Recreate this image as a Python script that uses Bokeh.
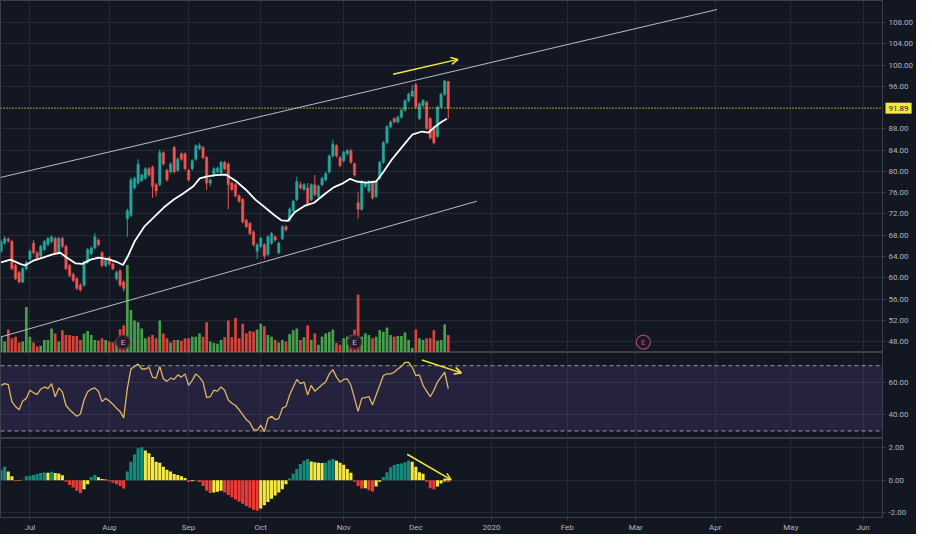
import numpy as np
from bokeh.plotting import figure
from bokeh.layouts import column
from bokeh.models import (Range1d, FixedTicker, PrintfTickFormatter, Span, BoxAnnotation,
                          Arrow, OpenHead, Grid)
from bokeh.embed import file_html
from bokeh.resources import INLINE
from bokeh.core.properties import value

# ---------------- data ----------------
opens = [65.0, 66.5, 67.3, 66.8, 62.3, 61.0, 59.2, 61.7, 63.5, 66.5,
         64.7, 64.1, 65.3, 66.2, 66.8, 67.4, 64.7, 67.4, 65.9, 62.3,
         60.6, 59.8, 58.6, 58.6, 62.9, 64.5, 65.6, 67.1, 64.7, 62.3,
         63.8, 62.6, 59.8, 61.3, 59.2, 71.1, 71.7, 76.9, 77.8, 78.3,
         78.7, 80.5, 80.8, 77.5, 77.5, 83.5, 80.2, 79.9, 84.5, 80.2,
         83.3, 83.3, 80.2, 80.5, 82.3, 84.3, 84.5, 82.6, 77.8, 79.3,
         79.9, 79.6, 81.7, 81.4, 77.8, 77.5, 75.4, 74.7, 70.8, 70.2,
         68.6, 65.0, 65.9, 66.2, 64.4, 66.5, 67.7, 64.7, 67.4, 69.6,
         70.8, 72.6, 74.7, 77.5, 76.6, 76.9, 74.7, 77.5, 75.3, 77.5,
         78.4, 79.9, 82.9, 84.8, 82.6, 82.0, 83.3, 83.9, 81.4, 74.1,
         72.9, 77.2, 76.3, 77.8, 75.3, 78.7, 81.7, 85.4, 88.4, 89.9,
         89.3, 90.2, 91.5, 93.3, 94.2, 96.3, 89.9, 92.4, 93.0, 89.9,
         88.1, 86.6, 92.1, 94.5, 96.9]
highs = [67.2, 67.8, 67.6, 67.1, 62.6, 61.3, 62.0, 63.2, 65.3, 67.1,
         65.0, 66.2, 67.1, 67.7, 68.0, 67.7, 67.7, 67.7, 66.2, 62.6,
         61.0, 60.1, 59.0, 63.2, 65.6, 65.9, 68.4, 67.4, 65.0, 63.8,
         64.1, 62.9, 61.3, 61.6, 59.5, 73.0, 78.9, 79.0, 82.3, 79.6,
         80.8, 80.8, 81.1, 77.8, 84.1, 83.8, 80.5, 81.7, 84.8, 82.6,
         83.6, 83.6, 80.5, 82.3, 85.1, 85.3, 84.8, 82.9, 78.7, 80.8,
         80.9, 82.0, 82.0, 81.7, 78.1, 77.8, 75.7, 75.0, 71.1, 70.5,
         68.9, 66.5, 67.7, 66.5, 68.0, 68.6, 68.0, 66.8, 69.9, 69.9,
         73.2, 74.7, 79.0, 78.1, 77.8, 77.8, 77.8, 79.3, 77.5, 79.0,
         79.9, 83.2, 86.0, 85.1, 82.9, 83.9, 84.2, 84.2, 81.7, 76.2,
         78.4, 78.1, 78.4, 78.1, 78.4, 82.0, 85.7, 88.7, 89.6, 90.2,
         90.5, 91.8, 93.6, 94.8, 96.3, 96.6, 93.0, 93.6, 93.3, 90.2,
         88.4, 92.4, 94.8, 97.2, 97.0]
lows = [64.7, 66.2, 66.6, 61.4, 59.6, 58.9, 59.0, 61.4, 63.2, 64.4,
        63.2, 63.8, 65.0, 65.9, 66.5, 64.4, 64.4, 65.6, 61.4, 60.1,
        59.2, 57.7, 57.4, 58.3, 62.6, 64.2, 65.3, 65.9, 62.0, 62.0,
        62.3, 61.4, 59.5, 58.3, 57.4, 67.7, 71.4, 76.6, 77.5, 78.0,
        78.4, 79.0, 75.0, 75.3, 77.2, 81.1, 78.1, 79.6, 79.6, 79.9,
        82.0, 80.2, 78.1, 80.2, 82.0, 84.0, 82.3, 76.5, 77.2, 79.0,
        79.6, 79.3, 80.2, 72.9, 76.3, 75.1, 74.1, 70.2, 69.3, 68.0,
        65.9, 63.5, 65.6, 63.5, 64.1, 66.2, 66.8, 64.4, 67.1, 68.7,
        70.5, 72.3, 74.4, 76.6, 76.3, 73.5, 74.4, 75.3, 75.0, 77.2,
        78.1, 79.6, 82.6, 82.6, 80.8, 81.7, 83.0, 81.4, 79.0, 71.1,
        72.6, 76.9, 76.0, 74.7, 75.0, 78.4, 81.4, 85.1, 88.1, 89.0,
        89.0, 89.9, 91.2, 93.0, 93.9, 91.8, 89.6, 92.1, 87.8, 86.0,
        85.1, 86.3, 91.8, 94.2, 89.9]
closes = [66.8, 67.4, 66.9, 61.7, 59.8, 59.2, 61.7, 62.9, 65.0, 64.7,
          63.5, 65.9, 66.8, 67.4, 67.7, 64.7, 67.4, 65.9, 61.7, 60.4,
          59.5, 58.0, 57.7, 62.9, 65.3, 65.6, 67.7, 66.2, 62.3, 63.5,
          62.6, 61.7, 61.0, 58.6, 58.0, 72.6, 78.4, 78.7, 81.4, 79.3,
          80.5, 79.3, 77.2, 76.3, 83.5, 81.4, 78.4, 81.4, 79.9, 82.3,
          82.3, 80.5, 78.4, 82.0, 84.8, 84.9, 82.6, 77.8, 78.4, 80.5,
          80.6, 81.7, 80.5, 77.5, 76.6, 75.4, 74.4, 70.5, 69.6, 68.3,
          66.2, 66.2, 67.4, 64.1, 67.7, 68.3, 67.1, 66.5, 69.6, 69.0,
          72.9, 74.4, 78.1, 76.9, 77.5, 73.8, 77.5, 75.6, 77.2, 78.7,
          79.6, 82.9, 85.1, 82.9, 81.1, 83.6, 83.9, 81.7, 79.3, 72.9,
          78.1, 77.8, 78.1, 75.0, 78.1, 81.7, 85.4, 88.4, 89.3, 89.3,
          90.2, 91.5, 93.3, 94.5, 95.1, 92.1, 92.7, 93.3, 88.1, 86.3,
          85.4, 92.1, 94.5, 97.0, 91.89]
volume = [1.63, 1.13, 2.37, 1.47, 1.63, 1.03, 1.13, 4.70, 1.63, 1.03,
          0.63, 0.70, 1.30, 1.30, 2.47, 1.97, 1.13, 2.30, 1.80, 1.80,
          1.70, 1.70, 1.30, 1.97, 2.23, 1.80, 1.30, 1.23, 1.47, 1.30,
          1.13, 1.03, 1.30, 2.40, 2.80, 9.03, 4.37, 3.30, 3.13, 2.47,
          1.47, 1.63, 1.80, 1.47, 3.30, 1.97, 1.47, 1.03, 1.30, 1.30,
          1.20, 1.47, 1.47, 1.63, 1.63, 1.97, 1.63, 3.13, 1.13, 0.97,
          0.90, 1.30, 1.57, 3.30, 1.57, 3.57, 1.47, 2.97, 1.97, 2.23,
          2.13, 2.37, 2.97, 2.70, 1.80, 1.63, 1.30, 1.03, 1.30, 1.13,
          1.90, 2.30, 2.47, 1.30, 1.57, 2.80, 1.30, 1.97, 0.80, 1.63,
          1.97, 2.13, 2.37, 0.97, 0.80, 1.47, 1.63, 1.80, 2.37, 5.97,
          1.63, 1.97, 1.80, 1.47, 1.63, 2.30, 2.13, 2.57, 1.80, 1.63,
          1.70, 1.70, 2.07, 1.30, 0.47, 2.37, 1.47, 1.30, 1.47, 1.47,
          2.30, 1.23, 1.30, 2.90, 1.80]
ma_x = [0, 2.6, 5.3, 6.6, 8.9, 11.6, 14.3, 16.4, 18, 20.7, 22.5, 24.8, 27, 29.7,
        32, 33.8, 35.2, 37, 39.7, 42.4, 45.1, 47.9, 50.6, 53.3, 55.1, 56.9, 59.6,
        62.3, 65.1, 67.8, 70.5, 73.2, 75.9, 77.7, 79.5, 81.4, 84.1, 86.8, 89.5,
        92.2, 94.9, 96.8, 98.6, 101.3, 104, 105.8, 108.3, 111.2, 114, 116.7,
        118.5, 120.3, 122.1, 123.6]
ma_y = [62.9, 63.4, 62.6, 62.3, 63.2, 63.8, 64.4, 64.7, 63.9, 62.7, 62.6, 63.4,
        63.8, 63.5, 63.0, 62.4, 64.1, 66.8, 69.6, 71.4, 73.2, 74.7, 75.9, 77.2,
        78.7, 79.0, 79.3, 79.4, 78.2, 76.6, 74.7, 73.2, 71.7, 70.8, 70.7, 72.3,
        73.5, 74.1, 75.6, 77.0, 77.8, 78.6, 78.1, 77.9, 78.1, 79.7, 82.2, 84.6,
        86.9, 87.5, 87.3, 88.4, 89.3, 89.9]
rsi = [58.0, 59.0, 58.4, 48.0, 45.0, 43.0, 48.4, 50.0, 55.0, 53.4,
       52.4, 55.6, 57.0, 56.0, 59.0, 51.0, 56.4, 54.0, 45.6, 43.0,
       41.0, 39.0, 40.4, 49.0, 54.0, 55.6, 56.4, 54.4, 48.0, 50.0,
       48.4, 46.4, 44.0, 42.0, 38.0, 56.0, 68.0, 69.6, 71.0, 68.0,
       68.0, 69.0, 63.0, 62.4, 69.6, 62.0, 60.4, 62.4, 61.6, 64.4,
       63.0, 65.0, 58.0, 61.0, 65.0, 63.0, 60.0, 50.4, 51.0, 55.0,
       54.4, 57.0, 55.0, 49.0, 47.0, 45.6, 43.0, 40.0, 37.0, 35.0,
       31.0, 30.4, 33.6, 29.6, 37.6, 39.0, 37.0, 37.6, 44.0, 45.0,
       52.0, 57.0, 61.6, 59.0, 60.0, 52.0, 58.0, 54.4, 56.4, 58.4,
       60.0, 65.0, 67.6, 63.0, 60.0, 61.6, 62.0, 58.0, 50.0, 42.0,
       50.0, 50.4, 51.0, 46.0, 52.0, 58.0, 64.0, 65.0, 65.0, 66.0,
       68.0, 69.6, 72.0, 72.0, 69.0, 64.0, 64.4, 58.0, 54.4, 51.0,
       55.0, 60.0, 63.0, 66.0, 56.0]
macd_hist = [0.64, 0.84, 0.54, 0.24, -0.06, -0.04, 0.02, 0.24, 0.28, 0.32,
             0.38, 0.44, 0.48, 0.46, 0.52, 0.44, 0.42, 0.30, -0.10, -0.30,
             -0.46, -0.66, -0.80, -0.56, -0.26, 0.20, 0.32, 0.18, 0.08, 0.04,
             -0.06, -0.16, -0.26, -0.36, -0.52, 0.54, 1.14, 1.60, 1.98, 2.04,
             1.84, 1.68, 1.44, 1.14, 1.08, 0.84, 0.64, 0.54, 0.38, 0.32,
             0.24, 0.14, -0.12, -0.06, -0.02, -0.12, -0.36, -0.66, -0.80, -0.76,
             -0.72, -0.66, -0.76, -0.92, -1.06, -1.20, -1.32, -1.46, -1.60, -1.72,
             -1.84, -1.90, -1.76, -1.56, -1.36, -1.16, -0.96, -0.76, -0.56, -0.26,
             0.10, 0.40, 0.70, 1.00, 1.20, 1.32, 1.16, 1.12, 1.08, 1.06,
             1.10, 1.24, 1.32, 1.20, 1.08, 0.96, 0.70, 0.46, -0.10, -0.36,
             -0.52, -0.50, -0.62, -0.70, -0.40, -0.10, 0.20, 0.50, 0.80, 0.94,
             1.00, 1.04, 1.12, 1.22, 1.14, 0.84, 0.50, 0.40, -0.10, -0.50,
             -0.56, -0.40, -0.20, -0.08, -0.12]

month_idx = [8, 30, 52, 72, 95, 115, 136, 157, 176, 198, 219, 239]
month_labels = ["Jul", "Aug", "Sep", "Oct", "Nov", "Dec", "2020", "Feb", "Mar", "Apr", "May", "Jun"]
price_ticks = [48, 52, 56, 60, 64, 68, 72, 76, 80, 84, 88, 96, 100, 104, 108]
rsi_ticks = [40, 60]
rsi_levels = [70, 30]
macd_ticks = [-2, 0, 2]
last_price = 91.89

upper_x = [-0.16, 198.5]
upper_y = [78.86, 110.44]
lower_x = [-0.16, 131.9]
lower_y = [48.85, 74.39]
earn_x = [33.8, 98.0, 178.1]
earn_y = [47.9, 47.9, 47.9]
price_arrow = [108.7, 98.28, 126.7, 101.07]
rsi_arrow = [116.7, 73.5, 127.6, 65.6]
macd_arrow = [112.6, 1.61, 124.8, 0.02]

# ---------------- styles ----------------
BG = "#131722"
GRID_C = "#252935"
SEP = "#3b3f4a"
AX_TXT = "#b2b5be"
UP = "#26a69a"
DN = "#ef5350"
VUP = "#4caf50"
VDN = "#f0483c"
YEL = "#f5e73b"
FONT = "Roboto"
W = 916
RB = 32

idx = list(range(len(closes)))
up = [c >= o for o, c in zip(opens, closes)]
ccol = [UP if u else DN for u in up]
vcol = [VUP if u else VDN for u in up]
body_top = [max(o, c) for o, c in zip(opens, closes)]
body_bot = [min(o, c) for o, c in zip(opens, closes)]

hcol = []
for i, v in enumerate(macd_hist):
    prev = macd_hist[i - 1] if i > 0 else v
    if v >= 0:
        hcol.append("#138a7b" if v >= prev else "#f5e83f")
    else:
        hcol.append("#ee3a35" if v <= prev else "#f5e83f")

xr = Range1d(-0.16, 244.4)


def style(p, yticks):
    p.background_fill_color = BG
    p.border_fill_color = BG
    p.outline_line_color = SEP
    p.min_border_left = 0
    p.min_border_right = RB
    p.min_border_top = 0
    ax = p.yaxis[0]
    ax.ticker = FixedTicker(ticks=yticks)
    ax.formatter = PrintfTickFormatter(format="%.2f")
    ax.major_label_text_font_size = "8px"
    ax.major_label_text_color = AX_TXT
    ax.major_label_text_font = FONT
    ax.axis_line_color = SEP
    ax.major_tick_line_color = SEP
    ax.major_tick_out = 3
    ax.major_tick_in = 0
    ax.minor_tick_line_color = None
    ax.major_label_standoff = 3
    for g in p.ygrid:
        g.ticker = FixedTicker(ticks=yticks)
        g.grid_line_color = GRID_C
    for g in p.xgrid:
        g.visible = False
    p.add_layout(Grid(dimension=0, ticker=FixedTicker(ticks=month_idx), grid_line_color=GRID_C))


# ---------------- main price panel ----------------
p1 = figure(width=W, height=352, x_range=xr, y_range=Range1d(45.94, 112.14),
            x_axis_location=None, y_axis_location="right",
            output_backend="svg", toolbar_location=None, min_border_bottom=0)
style(p1, price_ticks)
p1.extra_y_ranges = {"vol": Range1d(0, 36.3)}
p1.vbar(x=idx, top=volume, bottom=0, width=0.75, y_range_name="vol",
        fill_color=vcol, line_color=None, fill_alpha=0.9)
p1.line(upper_x, upper_y, line_color="#b8bbc4", line_width=1)
p1.line(lower_x, lower_y, line_color="#b8bbc4", line_width=1)
p1.segment(x0=idx, y0=lows, x1=idx, y1=highs, line_color=ccol, line_width=1)
p1.vbar(x=idx, top=body_top, bottom=body_bot, width=0.66, fill_color=ccol, line_color=ccol, line_width=0.5)
p1.line(ma_x, ma_y, line_color="#ffffff", line_width=1.8)
p1.add_layout(Span(location=last_price, dimension="width", line_color="#f7ea2a",
                   line_dash="1 2", line_width=1.2))
# last-price tag drawn on the price scale (overlay level so it is not clipped to the frame)
p1.text(x=[xr.end], y=[last_price], text=["%.2f" % last_price], x_offset=3,
        text_baseline="middle", text_align="left", text_font_size="8px",
        text_font=value(FONT), text_color="#131722",
        background_fill_color=YEL, padding=3, level="overlay")
p1.add_layout(Arrow(end=OpenHead(line_color=YEL, line_width=1.5, size=7),
                    x_start=price_arrow[0], y_start=price_arrow[1],
                    x_end=price_arrow[2], y_end=price_arrow[3],
                    line_color=YEL, line_width=1.5))
p1.scatter(earn_x, earn_y, marker="circle", size=14,
           fill_color=["#2a1c2e", "#2a1c2e", "#171a26"],
           line_color=["#4a3345", "#4a3345", "#a8407a"], line_width=1.2)
p1.text(earn_x, earn_y, text=["E", "E", "E"], text_font=value(FONT), text_font_size="8px",
        text_align="center", text_baseline="middle",
        text_color=["#d4b3c9", "#d4b3c9", "#c04a86"])

# ---------------- RSI panel ----------------
p2 = figure(width=W, height=86, x_range=xr, y_range=Range1d(25.4, 78.1),
            x_axis_location=None, y_axis_location="right",
            output_backend="svg", toolbar_location=None, min_border_bottom=0)
style(p2, rsi_ticks)
p2.add_layout(BoxAnnotation(bottom=rsi_levels[1], top=rsi_levels[0], fill_color="#7e57c2",
                            fill_alpha=0.17, line_color=None))
for lv in rsi_levels:
    p2.add_layout(Span(location=lv, dimension="width", line_color="#9598a1",
                       line_dash="4 3", line_width=1))
p2.line(idx, rsi, line_color="#f2c94c", line_width=1.3)
p2.add_layout(Arrow(end=OpenHead(line_color=YEL, line_width=1.5, size=7),
                    x_start=rsi_arrow[0], y_start=rsi_arrow[1],
                    x_end=rsi_arrow[2], y_end=rsi_arrow[3],
                    line_color=YEL, line_width=1.5))

# ---------------- MACD histogram panel ----------------
p3 = figure(width=W, height=96, x_range=xr, y_range=Range1d(-2.32, 2.59),
            y_axis_location="right", output_backend="svg", toolbar_location=None,
            min_border_bottom=17)
style(p3, macd_ticks)
p3.vbar(x=idx, top=macd_hist, bottom=0, width=0.86, fill_color=hcol, line_color=None)
p3.add_layout(Arrow(end=OpenHead(line_color=YEL, line_width=1.5, size=7),
                    x_start=macd_arrow[0], y_start=macd_arrow[1],
                    x_end=macd_arrow[2], y_end=macd_arrow[3],
                    line_color=YEL, line_width=1.5))
xa = p3.xaxis[0]
xa.ticker = FixedTicker(ticks=month_idx)
xa.major_label_overrides = {m: l for m, l in zip(month_idx, month_labels)}
xa.major_label_text_font_size = "8px"
xa.major_label_text_color = AX_TXT
xa.major_label_text_font = FONT
xa.axis_line_color = SEP
xa.major_tick_line_color = SEP
xa.major_tick_out = 3
xa.major_tick_in = 0
xa.minor_tick_line_color = None
xa.major_label_standoff = 2

layout = column(p1, p2, p3, spacing=0, styles={"background-color": BG})
open("out.html", "w").write(file_html(layout, INLINE))
